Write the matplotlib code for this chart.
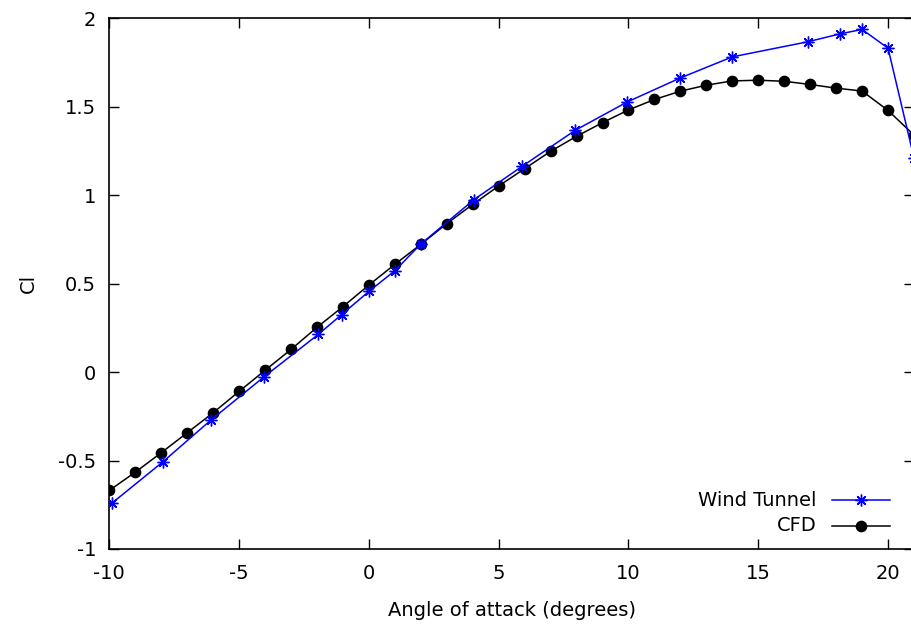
import matplotlib
matplotlib.use("Agg")
import matplotlib.pyplot as plt
from matplotlib.ticker import FuncFormatter, MultipleLocator

plt.rcParams["font.family"] = ["DejaVu Sans"]
plt.rcParams["axes.unicode_minus"] = False

# wind tunnel measurements
wt_alpha = [-9.9, -7.95, -6.1, -4.05, -1.95, -1.05, 0.0, 1.0, 2.0, 4.05,
            5.9, 7.95, 9.95, 12.0, 14.0, 16.9, 18.15, 19.0, 20.0, 21.0]
wt_cl = [-0.741, -0.509, -0.273, -0.028, 0.213, 0.325, 0.456, 0.573, 0.724, 0.975,
         1.163, 1.367, 1.527, 1.663, 1.782, 1.867, 1.912, 1.937, 1.831, 1.21]

# CFD results, one per degree
cfd_alpha = list(range(-10, 22))
cfd_cl = [-0.669, -0.566, -0.456, -0.343, -0.230, -0.109, 0.010, 0.128, 0.253, 0.370,
          0.492, 0.609, 0.722, 0.839, 0.948, 1.052, 1.150, 1.248, 1.333, 1.410,
          1.482, 1.541, 1.588, 1.622, 1.646, 1.650, 1.644, 1.626, 1.605, 1.589,
          1.479, 1.34]

W, H = 911, 630
fig = plt.figure(figsize=(W / 100, H / 100), dpi=100)
# right spine sits just past the figure edge
ax = fig.add_axes([109.3 / W, 1 - 549 / H, (914 - 109.3) / W, (549 - 18.3) / H])

star = (8, 2, 0)  # + and x overlaid
ax.plot(wt_alpha, wt_cl, color="#0000ff", lw=1.1, marker=star, ms=8.5, mew=1.0,
        zorder=3)
ax.plot(cfd_alpha, cfd_cl, color="black", lw=1.1, marker="o", ms=7.4, zorder=2)

ax.set_xlim(-10, 21)
ax.set_ylim(-1, 2)
ax.xaxis.set_major_locator(MultipleLocator(5))
ax.yaxis.set_major_locator(MultipleLocator(0.5))
ax.yaxis.set_major_formatter(FuncFormatter(lambda v, _: f"{v:g}"))
ax.xaxis.set_major_formatter(FuncFormatter(lambda v, _: f"{v:g}"))
ax.tick_params(direction="in", length=7.5, width=1.0, labelsize=14, pad=9.4,
               top=True, right=True)
ax.tick_params(axis="x", pad=11)
for s in ax.spines.values():
    s.set_linewidth(1.2)

ax.set_xlabel("Angle of attack (degrees)", fontsize=14, labelpad=13)
ax.set_ylabel("Cl", fontsize=14, labelpad=14.5)

# gnuplot-style key: right-aligned text, sample line to its right
keys = [("Wind Tunnel", "#0000ff", star, 8.5, 0.0923),
        ("CFD", "black", "o", 7.4, 0.0439)]
for label, col, mk, ms, yk in keys:
    ax.text(0.879, yk, label, transform=ax.transAxes, ha="right", va="center",
            fontsize=14)
    ax.plot([0.8977, 0.9702], [yk, yk], transform=ax.transAxes, color=col,
            lw=1.1, clip_on=False)
    ax.plot([0.934], [yk], transform=ax.transAxes, color=col, marker=mk, ms=ms,
            mew=1.0, clip_on=False)

fig.savefig("out.png", dpi=100)
